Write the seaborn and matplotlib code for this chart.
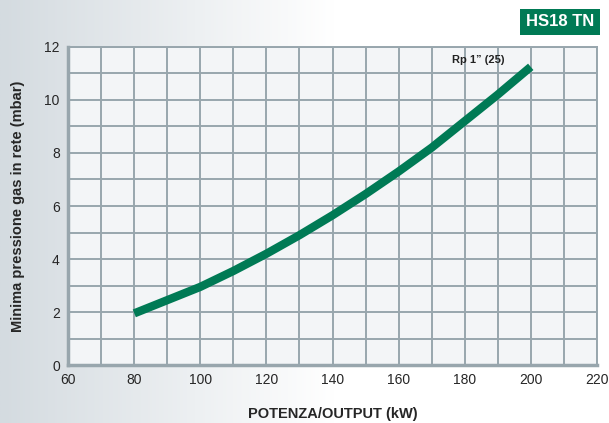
import numpy as np
import pandas as pd
import matplotlib.pyplot as plt
import seaborn as sns
from matplotlib.colors import LinearSegmentedColormap

# valori
potenza = [80, 90, 100, 110, 120, 130, 140, 150, 160, 170, 180, 190, 200]
pressione = [1.95, 2.45, 2.95, 3.55, 4.2, 4.9, 5.65, 6.45, 7.3, 8.2, 9.2, 10.2, 11.25]
x_ticks = [60, 80, 100, 120, 140, 160, 180, 200, 220]
y_ticks = [0, 2, 4, 6, 8, 10, 12]

df = pd.DataFrame({"kW": potenza, "mbar": pressione})

sns.set_style("white")
plt.rcParams['font.family'] = ['Liberation Sans', 'DejaVu Sans']

green = "#007a55"
gridc = "#98a6ad"

fig = plt.figure(figsize=(6.09, 4.23), dpi=100)

# sfondo sfumato a sinistra
bg = fig.add_axes([0, 0, 1, 1], zorder=-10)
grad = np.clip(np.linspace(0, 1, 300) / 0.55, 0, 1)
img = np.tile(grad, (10, 1))
cmap = LinearSegmentedColormap.from_list("bg", ["#d4dbe0", "#ffffff"])
bg.imshow(img, aspect="auto", cmap=cmap, extent=[0, 1, 0, 1])
bg.axis("off")

ax = fig.add_axes([0.112, 0.137, 0.868, 0.752])
ax.set_facecolor("#f3f5f7")
sns.lineplot(data=df, x="kW", y="mbar", ax=ax, color=green, linewidth=6,
             solid_capstyle="butt", zorder=5)

ax.set_xlim(60, 220)
ax.set_ylim(0, 12)
ax.set_xticks(x_ticks)
ax.set_yticks(y_ticks)
ax.set_xticks(np.arange(60, 221, 10), minor=True)
ax.set_yticks(np.arange(0, 13, 1), minor=True)
ax.grid(which="both", color=gridc, linewidth=1.4)
ax.tick_params(axis="both", which="major", length=4, color=gridc, width=1.2,
               labelsize=10, pad=2)
ax.tick_params(axis="both", which="minor", length=0)
for side in ax.spines.values():
    side.set_color(gridc)
    side.set_linewidth(1.4)
ax.spines["left"].set_linewidth(2.5)
ax.spines["bottom"].set_linewidth(2.5)

ax.set_xlabel("POTENZA/OUTPUT (kW)", fontsize=10.5, fontweight="bold", labelpad=14)
ax.set_ylabel("Minima pressione gas in rete (mbar)", fontsize=10.5, fontweight="bold", labelpad=14)

ax.text(184, 11.5, "Rp 1\u201d (25)", fontsize=8, fontweight="bold", ha="center",
        va="center", color="#222222", zorder=6)

fig.text(0.92, 0.948, "HS18 TN", fontsize=12, fontweight="bold", color="white",
         ha="center", va="center",
         bbox=dict(boxstyle="square,pad=0.35", facecolor=green, edgecolor="none"))

fig.savefig("out.png", dpi=100)
